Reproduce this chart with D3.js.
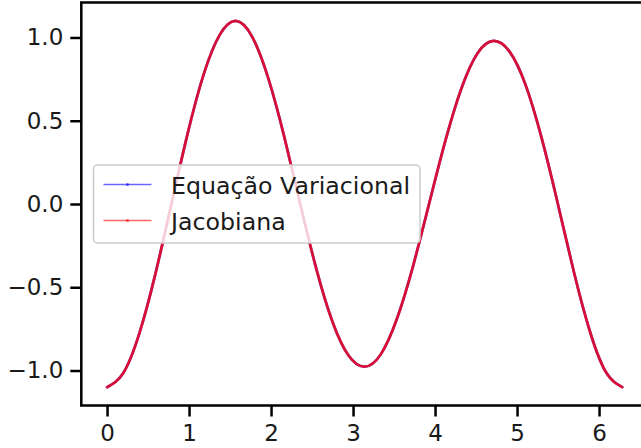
<!DOCTYPE html>
<html>
<head>
<meta charset="utf-8">
<script src="https://cdn.jsdelivr.net/npm/d3@7"></script>
<style>
  html, body { margin: 0; padding: 0; background: #fff; }
  svg { display: block; font-family: "DejaVu Sans", sans-serif; }
</style>
</head>
<body>
<svg id="chart" width="641" height="448"></svg>
<script>
// ---- data ----
const xValues = [0, 0.196, 0.393, 0.589, 0.785, 0.982, 1.178, 1.374, 1.571, 1.767, 1.963, 2.160,
                 2.356, 2.553, 2.749, 2.945, 3.142, 3.338, 3.534, 3.731, 3.927, 4.123, 4.320,
                 4.516, 4.712, 4.909, 5.105, 5.301, 5.498, 5.694, 5.890, 6.087, 6.283];
const equacaoVariacional = [-1.100, -1.016, -0.778, -0.421, 0.000, 0.421, 0.778, 1.016, 1.100,
                 1.007, 0.760, 0.406, 0.000, -0.391, -0.707, -0.910, -0.977, -0.903, -0.691,
                 -0.374, 0.000, 0.374, 0.692, 0.904, 0.979, 0.915, 0.714, 0.394, 0.000,
                 -0.410, -0.767, -1.012, -1.100];
const jacobiana = [-1.100, -1.016, -0.778, -0.421, 0.000, 0.421, 0.778, 1.016, 1.100,
                 1.007, 0.760, 0.406, 0.000, -0.391, -0.707, -0.910, -0.977, -0.903, -0.691,
                 -0.374, 0.000, 0.374, 0.692, 0.904, 0.979, 0.915, 0.714, 0.394, 0.000,
                 -0.410, -0.767, -1.012, -1.100];
const seriesNames = ["Equação Variacional", "Jacobiana"];
const seriesColors = ["#0000ff", "#ff0000"];
const seriesOpacity = [0.72, 0.8];
const xTicks = [0, 1, 2, 3, 4, 5, 6];
const yTicks = [-1.0, -0.5, 0.0, 0.5, 1.0];

(function () {
// ---- layout ----
const svg = d3.select("#chart");
const pLeft = 81.3, pRight = 648, pTop = 2.5, pBottom = 405.5;
const xDomain = [-0.314, 6.597];
const yDomain = [-1.21, 1.21];
const x = d3.scaleLinear().domain(xDomain).range([pLeft, pRight]);
const y = d3.scaleLinear().domain(yDomain).range([pBottom, pTop]);

// lines
const line = d3.line().x(d => x(d[0])).y(d => y(d[1])).curve(d3.curveNatural);
const allSeries = [equacaoVariacional, jacobiana];
allSeries.forEach((vals, i) => {
  const pts = xValues.map((xv, j) => [xv, vals[j]]);
  svg.append("path")
    .datum(pts)
    .attr("d", line)
    .attr("fill", "none")
    .attr("stroke", seriesColors[i])
    .attr("stroke-opacity", seriesOpacity[i])
    .attr("stroke-width", 2.7)
    .attr("stroke-linejoin", "round")
    .attr("stroke-linecap", "round");
});

// axes
const fontSize = 23;
const xAxis = d3.axisBottom(x).tickValues(xTicks).tickFormat(d3.format("d")).tickSize(11).tickPadding(8);
const yAxis = d3.axisLeft(y).tickValues(yTicks).tickFormat(d => d3.format(".1f")(d).replace("-", "\u2212")).tickSize(11).tickPadding(7);

const gx = svg.append("g").attr("transform", `translate(0,${pBottom})`).call(xAxis);
const gy = svg.append("g").attr("transform", `translate(${pLeft},0)`).call(yAxis);
[gx, gy].forEach(g => {
  g.select(".domain").remove();
  g.selectAll(".tick line").attr("stroke", "#000").attr("stroke-width", 2.5);
  g.selectAll(".tick text").attr("fill", "#1a1a1a").style("font-size", fontSize + "px")
    .style("font-family", "DejaVu Sans");
});

// spines
svg.append("rect")
  .attr("x", pLeft).attr("y", pTop)
  .attr("width", pRight - pLeft).attr("height", pBottom - pTop)
  .attr("fill", "none").attr("stroke", "#000").attr("stroke-width", 2.5);

// legend
const lg = svg.append("g");
const lx = 93.5, ly = 165, lw = 326.5, lh = 78;
lg.append("rect")
  .attr("x", lx).attr("y", ly).attr("width", lw).attr("height", lh)
  .attr("rx", 4).attr("ry", 4)
  .attr("fill", "#fff").attr("fill-opacity", 0.8)
  .attr("stroke", "#cccccc").attr("stroke-width", 1.5);
const rowY = [184.5, 220.5];
seriesNames.forEach((name, i) => {
  lg.append("line")
    .attr("x1", 103.5).attr("x2", 151.5)
    .attr("y1", rowY[i]).attr("y2", rowY[i])
    .attr("stroke", seriesColors[i]).attr("stroke-opacity", 0.6).attr("stroke-width", 1.6);
  lg.append("circle")
    .attr("cx", 127.5).attr("cy", rowY[i]).attr("r", 1.5)
    .attr("fill", seriesColors[i]).attr("fill-opacity", 0.6);
  lg.append("text")
    .attr("x", 171).attr("y", rowY[i] + 9.5)
    .attr("fill", "#1a1a1a")
    .style("font-size", "23.7px")
    .text(name);
});
})();
</script>
</body>
</html>
